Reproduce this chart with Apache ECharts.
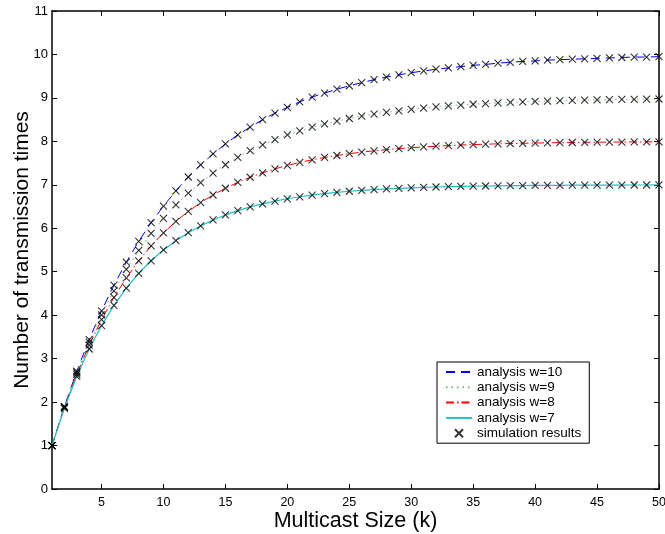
<!DOCTYPE html>
<html><head><meta charset="utf-8">
<script src="https://cdn.jsdelivr.net/npm/echarts@6/dist/echarts.min.js"></script>
<style>html,body{margin:0;padding:0;background:#fff}#c{width:665px;height:534px}</style>
</head><body><div id="c"></div>
<script>
const kValues = [1,2,3,4,5,6,7,8,9,10,11,12,13,14,15,16,17,18,19,20,21,22,23,24,25,26,27,28,29,30,31,32,33,34,35,36,37,38,39,40,41,42,43,44,45,46,47,48,49,50];
const w10 = [1,1.9,2.71,3.44,4.10,4.69,5.22,5.70,6.13,6.51,6.86,7.18,7.46,7.71,7.94,8.15,8.33,8.50,8.65,8.78,8.91,9.02,9.11,9.20,9.28,9.35,9.42,9.48,9.53,9.58,9.62,9.66,9.69,9.72,9.75,9.77,9.80,9.82,9.84,9.85,9.87,9.88,9.89,9.90,9.91,9.92,9.93,9.94,9.94,9.95];
const w9 = [1,1.889,2.679,3.381,4.006,4.560,5.054,5.492,5.882,6.228,6.536,6.810,7.053,7.270,7.462,7.633,7.785,7.920,8.040,8.147,8.241,8.326,8.401,8.467,8.526,8.579,8.626,8.667,8.704,8.737,8.766,8.792,8.815,8.836,8.854,8.870,8.885,8.898,8.909,8.919,8.928,8.936,8.943,8.949,8.955,8.960,8.965,8.968,8.972,8.975];
const w8 = [1,1.875,2.641,3.311,3.897,4.410,4.858,5.251,5.595,5.895,6.158,6.389,6.590,6.766,6.921,7.055,7.174,7.277,7.367,7.446,7.516,7.576,7.629,7.675,7.716,7.752,7.783,7.810,7.834,7.854,7.873,7.888,7.902,7.915,7.925,7.935,7.943,7.950,7.956,7.962,7.966,7.971,7.974,7.978,7.980,7.983,7.985,7.987,7.988,7.990];
const w7 = [1,1.857,2.592,3.222,3.761,4.224,4.621,4.961,5.252,5.502,5.716,5.899,6.056,6.191,6.307,6.406,6.491,6.563,6.626,6.679,6.725,6.764,6.798,6.827,6.852,6.873,6.891,6.907,6.920,6.931,6.941,6.950,6.957,6.963,6.968,6.973,6.977,6.980,6.983,6.985,6.987,6.989,6.991,6.992,6.993,6.994,6.995,6.996,6.996,6.997];
const xTicks = [5,10,15,20,25,30,35,40,45,50];
const seriesNames = ['analysis w=10','analysis w=9','analysis w=8','analysis w=7'];
const simName = 'simulation results';

const pairs = arr => kValues.map((k,i)=>[k, arr[i]]);
const simData = [].concat(pairs(w10), pairs(w9), pairs(w8), pairs(w7));
const font = 'Liberation Sans, Arial, Helvetica, sans-serif';

const chart = echarts.init(document.getElementById('c'), null, {renderer:'canvas'});
const baseX = {type:'value', min:1, max:50,
  axisLine:{show:true, onZero:false, lineStyle:{color:'#000', width:1.5}},
  splitLine:{show:false}};
const baseY = {type:'value', min:0, max:11, interval:1,
  axisLine:{show:true, onZero:false, lineStyle:{color:'#000', width:1.5}},
  splitLine:{show:false}};
chart.setOption({
  animation:false,
  backgroundColor:'#fff',
  grid:{left:52, right:6, top:11, bottom:45, containLabel:false, outerBoundsMode:'none'},
  xAxis:[
    Object.assign({}, baseX, {position:'bottom', name:'Multicast Size (k)', nameLocation:'middle', nameGap:21,
      nameMoveOverlap:false,
      nameTextStyle:{fontFamily:font, fontSize:21.5, color:'#000'},
      axisTick:{show:true, inside:true, length:5, customValues:xTicks, lineStyle:{color:'#000'}},
      axisLabel:{show:true, customValues:xTicks, fontFamily:font, fontSize:12.5, color:'#000', margin:7}}),
    Object.assign({}, baseX, {position:'top',
      axisTick:{show:true, inside:true, length:5, customValues:xTicks, lineStyle:{color:'#000'}},
      axisLabel:{show:false}})
  ],
  yAxis:[
    Object.assign({}, baseY, {position:'left', name:'Number of transmission times', nameLocation:'middle', nameGap:19,
      nameMoveOverlap:false,
      nameTextStyle:{fontFamily:font, fontSize:21, color:'#000'},
      axisTick:{show:true, inside:true, length:5, lineStyle:{color:'#000'}},
      axisLabel:{show:true, fontFamily:font, fontSize:13, color:'#000', margin:4}}),
    Object.assign({}, baseY, {position:'right',
      axisTick:{show:true, inside:true, length:5, lineStyle:{color:'#000'}},
      axisLabel:{show:false}})
  ],
  legend:{
    orient:'vertical', left:437, top:362, width:150,
    backgroundColor:'#fff', borderColor:'#000', borderWidth:1,
    padding:[3,8,3,8], itemWidth:26, itemHeight:12, itemGap:1.3,
    textStyle:{fontFamily:font, fontSize:13.5, lineHeight:13, color:'#000'},
    data:[
      {name:seriesNames[0], itemStyle:{opacity:0}},
      {name:seriesNames[1], itemStyle:{opacity:0}},
      {name:seriesNames[2], itemStyle:{opacity:0}},
      {name:seriesNames[3], itemStyle:{opacity:0}},
      {name:simName, icon:'path://M-9,4L-9,4M0,0L8,8M8,0L0,8M17,4L17,4'}
    ]
  },
  series:[
    {name:seriesNames[0], type:'line', data:pairs(w10), symbol:'none', smooth:false,
      lineStyle:{color:'#0000ff', width:1, type:[9,6]}, itemStyle:{color:'#0000ff'}, z:2},
    {name:seriesNames[1], type:'line', data:pairs(w9), symbol:'none',
      lineStyle:{color:'#70b870', width:1, type:[1.5,4]}, itemStyle:{color:'#70b870'}, z:2},
    {name:seriesNames[2], type:'line', data:pairs(w8), symbol:'none',
      lineStyle:{color:'#ff0000', width:1, type:[8,3,1.5,3]}, itemStyle:{color:'#ff0000'}, z:2},
    {name:seriesNames[3], type:'line', data:pairs(w7), symbol:'none',
      lineStyle:{color:'#20c0c0', width:1.2, type:'solid'}, itemStyle:{color:'#20c0c0'}, z:2},
    {name:simName, type:'scatter', data:simData, symbol:'path://M0,0L10,10M10,0L0,10', symbolSize:7,
      itemStyle:{color:'rgba(0,0,0,0)', borderColor:'#000', borderWidth:1.1}, z:3}
  ]
});
</script></body></html>
